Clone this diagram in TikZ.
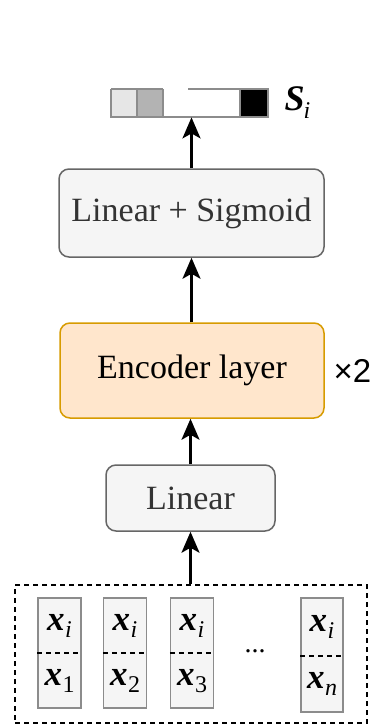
\documentclass[tikz,border=0pt]{standalone}
\usepackage{fontspec}
\setmainfont{Liberation Serif}
\newfontfamily\labsans{Liberation Sans}
\usetikzlibrary{arrows.meta,calc}
\definecolor{boxfill}{HTML}{F5F5F5}
\definecolor{boxline}{HTML}{666666}
\definecolor{encfill}{HTML}{FFE6CC}
\definecolor{encline}{HTML}{D79B00}
\definecolor{celline}{HTML}{8C8C8C}
\definecolor{txtgray}{HTML}{333333}
\definecolor{lightshade}{HTML}{E6E6E6}
\definecolor{midshade}{HTML}{B3B3B3}
\newcommand\vecx[1]{{\bfseries\itshape x}\kern0.5pt\raisebox{-7pt}{\fontsize{24}{24}\selectfont #1}}
\begin{document}
\begin{tikzpicture}[x=1pt,y=-1pt,
  layerbox/.style={draw=boxline,fill=boxfill,line width=1.5pt,rounded corners=10pt,
    inner sep=0pt,text=txtgray,font=\fontsize{34}{40}\selectfont},
  encbox/.style={layerbox,draw=encline,fill=encfill,text=black},
  cellbox/.style={draw=celline,fill=boxfill,line width=1.5pt,inner sep=0pt},
  flow/.style={line width=2.4pt,-{Stealth[length=21pt,width=18pt,inset=5pt]}},
  cut/.style={line width=1.5pt,dash pattern=on 5pt off 4pt}]
\useasboundingbox (0,0) rectangle (375,726);

% score strip at the top
\node[minimum width=157pt,minimum height=28pt,inner sep=0pt,anchor=north west] (bar) at (111,89) {};
\fill[lightshade] (111,89) rectangle (137,117);
\fill[midshade] (137,89) rectangle (163,117);
\fill[black] (240,89) rectangle (268,117);
\draw[celline,line width=1.2pt] (111,89) -- (163,89);
\draw[celline,line width=1.2pt] (188,89) -- (268,89) -- (268,117) -- (111,117) -- (111,89);
\draw[celline,line width=1.2pt] (137,89) -- (137,117) (163,89) -- (163,117) (240,89) -- (240,117);
\node[font=\fontsize{36}{36}\selectfont\bfseries\itshape,anchor=west] (s) at (281,103)
  {S\kern-1pt\raisebox{-8pt}{\fontsize{24}{24}\mdseries\selectfont i}};

% layer stack
\node[layerbox,minimum width=265pt,minimum height=88pt] (sig) at (191.5,213) {Linear + Sigmoid};
\node[encbox,minimum width=264pt,minimum height=95pt] (enc) at (192,370.5) {Encoder layer};
\node[font=\labsans\fontsize{33}{33}\selectfont,anchor=west] (rep) at (330,371) {×2};
\node[layerbox,minimum width=169pt,minimum height=66pt] (lin) at (190.5,498) {Linear};

% input pairs
\node[draw,cut,minimum width=352pt,minimum height=138pt,inner sep=0pt] (inp) at (191,654) {};
\foreach \n/\cx/\sub in {c1/59.5/1,c2/125/2,c3/192/3}{
  \node[cellbox,minimum width=43pt,minimum height=110pt] (\n) at (\cx,653) {};
  \draw[cut] (\n.west |- 0,653) -- (\n.east |- 0,653);
  \node[font=\fontsize{35}{35}\selectfont] at (\cx,626) {\vecx{\itshape i}};
  \node[font=\fontsize{35}{35}\selectfont] at (\cx,681) {\vecx{\sub}};
}
\node[cellbox,minimum width=42pt,minimum height=114pt] (cn) at (322,655) {};
\draw[cut] (cn.west |- 0,656) -- (cn.east |- 0,656);
\node[font=\fontsize{35}{35}\selectfont] at (322,627) {\vecx{\itshape i}};
\node[font=\fontsize{35}{35}\selectfont] at (322,684) {\vecx{\itshape n}};
\node[font=\fontsize{28}{28}\selectfont] (dots) at (255,651) {...};

% connectors
\draw[flow] (inp.north -| lin.south) -- (lin.south);
\draw[flow] (lin.north) -- (lin.north |- enc.south);
\draw[flow] (enc.north -| sig.south) -- (sig.south);
\draw[flow] (sig.north) -- (sig.north |- bar.south);
\end{tikzpicture}
\end{document}
